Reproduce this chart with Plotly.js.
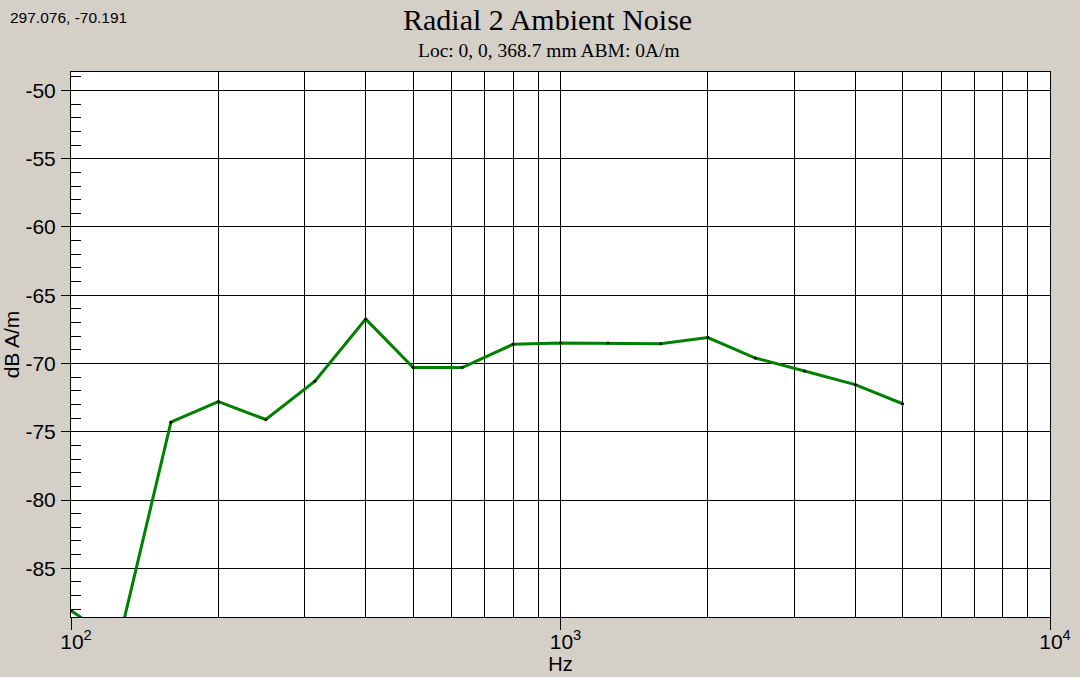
<!DOCTYPE html>
<html><head><meta charset="utf-8">
<script src="https://cdn.plot.ly/plotly-3.0.1.min.js"></script>
<style>html,body{margin:0;padding:0;background:#d4d0c8;}</style>
</head><body>
<div id="chart" style="width:1080px;height:677px"></div>
<script>
// Data (1/3-octave bands)
const freqHz = [100, 125, 160, 200, 250, 315, 400, 500, 630, 800, 1000, 1250, 1600, 2000, 2500, 3150, 4000, 5000];
const levelDb = [-88.1, -90.5, -74.3, -72.8, -74.1, -71.3, -66.75, -70.3, -70.3, -68.6, -68.5, -68.5, -68.55, -68.1, -69.6, -70.55, -71.55, -72.95];
const xTickVals = [100, 1000, 10000];
const xTickText = ['10<sup>2</sup>', '10<sup>3</sup>', '10<sup>4</sup>'];
const yTickVals = [-85, -80, -75, -70, -65, -60, -55, -50];
const yTickText = ['-85', '-80', '-75', '-70', '-65', '-60', '-55', '-50'];
const titleText = 'Radial 2 Ambient Noise';
const subtitleText = 'Loc: 0, 0, 368.7 mm ABM: 0A/m';
const cursorText = '297.076, -70.191';

const sans = 'Liberation Sans, Arial, sans-serif';
const serif = 'Liberation Serif, Times New Roman, serif';

const trace = {
  x: freqHz, y: levelDb, type: 'scatter', mode: 'lines+markers',
  line: {color: '#008000', width: 3},
  marker: {color: '#000', size: 3},
  cliponaxis: true, hoverinfo: 'skip'
};

const layout = {
  width: 1080, height: 677,
  paper_bgcolor: '#d4d0c8', plot_bgcolor: '#ffffff',
  margin: {l: 71, r: 30, t: 72, b: 60, pad: 0},
  showlegend: false,
  title: {text: titleText, font: {family: serif, size: 30, color: '#000'},
          x: 0.507, xanchor: 'center', xref: 'container', y: 0.9705, yanchor: 'middle', yref: 'container'},
  xaxis: {
    type: 'log', range: [2, 4], tickmode: 'array', tickvals: xTickVals, ticktext: xTickText,
    ticks: 'outside', ticklen: 12, tickcolor: '#000', tickwidth: 1, ticklabelstandoff: -6, ticklabelshift: 5,
    showgrid: true, gridcolor: '#000', gridwidth: 1,
    minor: {dtick: 'D1', showgrid: true, gridcolor: '#000', gridwidth: 1, ticks: ''},
    showline: true, linecolor: '#000', linewidth: 1, mirror: true, zeroline: false,
    tickfont: {family: sans, size: 21, color: '#000'},
    title: {text: 'Hz', font: {family: sans, size: 20, color: '#000'}, standoff: 0}
  },
  yaxis: {
    range: [-88.57, -48.65], tickmode: 'array', tickvals: yTickVals, ticktext: yTickText,
    ticks: 'outside', ticklen: 9, tickcolor: '#000', tickwidth: 1, ticklabelstandoff: 1,
    showgrid: true, gridcolor: '#000', gridwidth: 1,
    minor: {dtick: 1, tick0: -50, ticks: 'inside', ticklen: 10, tickcolor: '#000', tickwidth: 1, showgrid: false},
    showline: true, linecolor: '#000', linewidth: 1, mirror: true, zeroline: false,
    tickfont: {family: sans, size: 21, color: '#000'},
    title: {text: 'dB A/m', font: {family: sans, size: 21, color: '#000'}, standoff: 0}
  },
  annotations: [
    {text: subtitleText, xref: 'paper', yref: 'paper', x: 0.488, y: 1.0391, xanchor: 'center', yanchor: 'middle',
     showarrow: false, font: {family: serif, size: 19.5, color: '#000'}},
    {text: cursorText, xref: 'paper', yref: 'paper', x: -0.0643, y: 1.1009, xanchor: 'left', yanchor: 'middle',
     showarrow: false, font: {family: sans, size: 15.5, color: '#000'}}
  ]
};

Plotly.newPlot('chart', [trace], layout, {displayModeBar: false, staticPlot: true});
</script>
</body></html>
